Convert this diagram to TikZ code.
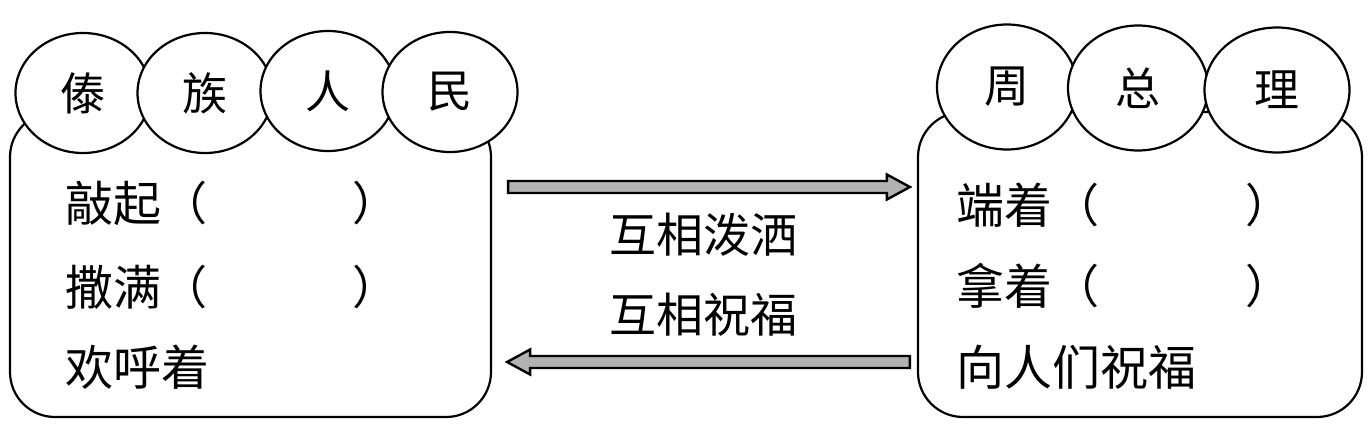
\documentclass[tikz,border=0pt]{standalone}
\usepackage{fontspec}
\setmainfont{Noto Sans CJK SC}
\usetikzlibrary{shapes.geometric,calc}
\begin{document}
\begin{tikzpicture}[x=1pt,y=1pt,
  box/.style={draw, line width=2.2pt, rounded corners=45pt, inner sep=0pt},
  bubble/.style={ellipse, draw, line width=2.2pt, fill=white, minimum width=135pt, minimum height=120pt, inner sep=0pt, font=\fontsize{45}{45}\selectfont},
  txt/.style={anchor=west, inner sep=0pt, font=\fontsize{48}{48}\selectfont},
  par/.style={inner sep=0pt, font=\fontsize{46}{46}\selectfont},
  mid/.style={inner sep=0pt, font=\fontsize{47}{47}\selectfont},
  blockarrow/.style={draw, line width=2.4pt, fill=black!30, line join=miter}
]
\useasboundingbox (0,0) rectangle (1371,-428);
% boxes
\node[box, minimum width=481pt, minimum height=305pt] (lbox) at (250.5,-264.5) {};
\node[box, minimum width=444pt, minimum height=305pt] (rbox) at (1140,-264.5) {};
% left bubbles
\node[bubble] (l1) at (83,-93) {傣};
\node[bubble] (l2) at (205,-93) {族};
\node[bubble] (l3) at (328,-91) {人};
\node[bubble] (l4) at (450,-92) {民};
% right bubbles
\node[bubble, minimum width=140pt, minimum height=125pt] (r1) at (1007,-87) {周};
\node[bubble, minimum width=140pt, minimum height=125pt] (r2) at (1138,-88) {总};
\node[bubble, minimum width=145pt, minimum height=125pt] (r3) at (1277,-90) {理};
% left texts
\node[txt] (lt1) at (65,-203) {敲起};
\node[par] (lp1a) at (184,-203) {（};
\node[par] (lp1b) at (375,-203) {）};
\node[txt] (lt2) at (65,-287) {撒满};
\node[par] (lp2a) at (184,-287) {（};
\node[par] (lp2b) at (375,-287) {）};
\node[txt] (lt3) at (65,-367) {欢呼着};
% right texts
\node[txt] (rt1) at (956,-205) {端着};
\node[par] (rp1a) at (1076,-205) {（};
\node[par] (rp1b) at (1268,-205) {）};
\node[txt] (rt2) at (956,-286) {拿着};
\node[par] (rp2a) at (1076,-286) {（};
\node[par] (rp2b) at (1268,-286) {）};
\node[txt] (rt3) at (956,-367) {向人们祝福};
% middle texts
\node[mid] (m1) at (703,-235) {互相泼洒};
\node[mid] (m2) at (703,-315) {互相祝福};
% arrows
\coordinate (a1s) at (lbox.east |- 0,-187);
\coordinate (a1e) at (rbox.west |- 0,-187);
\coordinate (a2s) at (rbox.west |- 0,-362);
\coordinate (a2e) at (lbox.east |- 0,-362);
\draw[blockarrow] ($(a1s)+(16,6)$) -- ($(a1e)+(-30,6)$) -- ($(a1e)+(-30,12.5)$) -- ($(a1e)+(-7,0)$)
  -- ($(a1e)+(-30,-12.5)$) -- ($(a1e)+(-30,-6)$) -- ($(a1s)+(16,-6)$) -- cycle;
\draw[blockarrow] ($(a2s)+(-7,6)$) -- ($(a2e)+(38,6)$) -- ($(a2e)+(38,12.5)$) -- ($(a2e)+(15,0)$)
  -- ($(a2e)+(38,-12.5)$) -- ($(a2e)+(38,-6)$) -- ($(a2s)+(-7,-6)$) -- cycle;
\end{tikzpicture}
\end{document}
